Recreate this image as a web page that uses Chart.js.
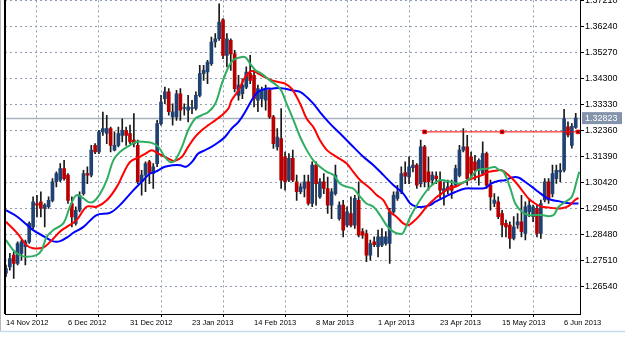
<!DOCTYPE html>
<html><head><meta charset="utf-8">
<script src="https://cdn.jsdelivr.net/npm/chart.js@4.4.1/dist/chart.umd.min.js"></script>
<style>
html,body{margin:0;padding:0;background:#fff;overflow:hidden;}
#wrap{position:relative;width:625px;height:356px;overflow:hidden;background:#fff;}
#c{position:absolute;left:0;top:0;}
</style></head><body>
<div id="wrap"><canvas id="c" width="625" height="362"></canvas></div>
<script>
// ---- data (daily EURUSD-style candles, bar index 0 = 14 Nov 2012) ----
const openP = [1.2704,1.2728,1.2772,1.2741,1.2778,1.2803,1.2821,1.2877,1.2964,1.2970,1.2946,1.2952,1.2976,1.3045,1.3051,1.3094,1.3070,1.2964,1.2890,1.2939,
1.3001,1.3076,1.3070,1.3181,1.3156,1.3231,1.3225,1.3243,1.3163,1.3181,1.3218,1.3237,1.3225,1.3200,1.3181,1.3045,1.3070,1.3119,1.3076,1.3113,
1.3262,1.3355,1.3380,1.3287,1.3287,1.3373,1.3318,1.3312,1.3318,1.3318,1.3367,1.3448,1.3454,1.3485,1.3566,1.3578,1.3649,1.3516,1.3572,1.3522,
1.3367,1.3373,1.3398,1.3448,1.3442,1.3349,1.3355,1.3349,1.3386,1.3287,1.3175,1.3206,1.3138,1.3051,1.3132,1.3045,1.3008,1.3020,1.3045,1.2964,
1.3107,1.2989,1.3045,1.3020,1.2958,1.3001,1.2908,1.2958,1.2883,1.2927,1.2883,1.2976,1.2859,1.2852,1.2772,1.2821,1.2803,1.2809,1.2815,1.2815,
1.2933,1.2983,1.3008,1.3079,1.3063,1.3098,1.3107,1.3038,1.3175,1.3082,1.3051,1.3066,1.3051,1.3008,1.3014,1.3032,1.3032,1.3069,1.3163,1.3175,
1.3138,1.3119,1.3088,1.3076,1.3150,1.3032,1.2964,1.2970,1.2927,1.2890,1.2884,1.2834,1.2884,1.2896,1.2853,1.2933,1.2915,1.2946,1.2853,1.2977,
1.3045,1.3001,1.3057,1.3082,1.3088,1.3250,1.3181,1.3248];
const highP = [1.2735,1.2778,1.2784,1.2821,1.2828,1.2828,1.2896,1.2989,1.2995,1.3008,1.2964,1.2989,1.3057,1.3082,1.3113,1.3125,1.3076,1.2989,1.2952,1.3008,
1.3088,1.3101,1.3181,1.3187,1.3237,1.3305,1.3293,1.3249,1.3231,1.3249,1.3280,1.3249,1.3256,1.3299,1.3200,1.3088,1.3119,1.3125,1.3113,1.3274,
1.3367,1.3398,1.3392,1.3336,1.3386,1.3392,1.3336,1.3367,1.3349,1.3380,1.3479,1.3479,1.3498,1.3584,1.3597,1.3708,1.3653,1.3597,1.3578,1.3535,
1.3442,1.3429,1.3473,1.3516,1.3460,1.3405,1.3398,1.3405,1.3392,1.3293,1.3243,1.3318,1.3156,1.3150,1.3163,1.3070,1.3038,1.3070,1.3070,1.3119,
1.3119,1.3057,1.3076,1.3063,1.3020,1.3107,1.2970,1.2976,1.2952,1.2989,1.2995,1.3045,1.2871,1.2865,1.2828,1.2840,1.2865,1.2871,1.2859,1.2946,
1.3008,1.3032,1.3101,1.3119,1.3138,1.3125,1.3113,1.3200,1.3181,1.3138,1.3082,1.3082,1.3082,1.3045,1.3051,1.3051,1.3107,1.3181,1.3243,1.3218,
1.3156,1.3144,1.3131,1.3194,1.3156,1.3051,1.3001,1.2989,1.2939,1.2902,1.2896,1.2915,1.2927,1.2995,1.2970,1.2977,1.2958,1.2958,1.2977,1.3057,
1.3057,1.3107,1.3107,1.3113,1.3315,1.3268,1.3262,1.3300];
const lowP = [1.2691,1.2716,1.2685,1.2735,1.2753,1.2735,1.2815,1.2870,1.2914,1.2914,1.2877,1.2946,1.2970,1.3026,1.3045,1.3051,1.2964,1.2877,1.2883,1.2933,
1.2995,1.3038,1.3063,1.3150,1.3150,1.3218,1.3187,1.3156,1.3160,1.3175,1.3194,1.3181,1.3187,1.3175,1.3038,1.2995,1.3008,1.3038,1.3020,1.3101,
1.3256,1.3336,1.3293,1.3256,1.3274,1.3274,1.3293,1.3268,1.3299,1.3312,1.3361,1.3423,1.3411,1.3479,1.3547,1.3572,1.3504,1.3473,1.3460,1.3380,
1.3349,1.3355,1.3392,1.3411,1.3324,1.3306,1.3324,1.3312,1.3281,1.3169,1.3163,1.3020,1.3014,1.3045,1.3045,1.2976,1.3001,1.2989,1.2958,1.2952,
1.2958,1.2983,1.3001,1.2927,1.2908,1.2995,1.2902,1.2840,1.2877,1.2877,1.2871,1.2840,1.2834,1.2747,1.2753,1.2803,1.2765,1.2803,1.2809,1.2741,
1.2927,1.2976,1.3001,1.3038,1.3038,1.3082,1.3020,1.3026,1.3026,1.3014,1.3032,1.3038,1.2983,1.2958,1.3001,1.2983,1.3026,1.3063,1.3156,1.3032,
1.3063,1.3051,1.3032,1.3069,1.3020,1.2939,1.2952,1.2908,1.2840,1.2840,1.2797,1.2828,1.2871,1.2840,1.2828,1.2915,1.2896,1.2840,1.2834,1.2970,
1.2964,1.2989,1.3039,1.3045,1.3082,1.3212,1.3170,1.3244];
const closeP = [1.2722,1.2759,1.2741,1.2815,1.2821,1.2821,1.2890,1.2970,1.2958,1.2946,1.2958,1.2976,1.3045,1.3076,1.3094,1.3057,1.2976,1.2914,1.2939,1.2995,
1.3076,1.3070,1.3163,1.3156,1.3231,1.3243,1.3243,1.3181,1.3181,1.3225,1.3237,1.3218,1.3194,1.3187,1.3045,1.3070,1.3113,1.3076,1.3101,1.3262,
1.3342,1.3380,1.3306,1.3306,1.3373,1.3312,1.3322,1.3324,1.3322,1.3367,1.3448,1.3460,1.3491,1.3566,1.3578,1.3640,1.3516,1.3578,1.3522,1.3392,
1.3405,1.3405,1.3454,1.3423,1.3355,1.3392,1.3386,1.3392,1.3287,1.3187,1.3212,1.3051,1.3045,1.3132,1.3051,1.3008,1.3026,1.3045,1.2964,1.3107,
1.3038,1.3045,1.3020,1.2958,1.3008,1.3070,1.2958,1.2865,1.2933,1.2883,1.2983,1.2846,1.2846,1.2772,1.2815,1.2811,1.2840,1.2840,1.2840,1.2933,
1.2995,1.3008,1.3076,1.3066,1.3101,1.3107,1.3032,1.3175,1.3045,1.3045,1.3070,1.3057,1.3014,1.3020,1.3026,1.3014,1.3094,1.3163,1.3175,1.3057,
1.3076,1.3088,1.3125,1.3150,1.3032,1.2989,1.2977,1.2915,1.2884,1.2877,1.2834,1.2877,1.2896,1.2859,1.2952,1.2958,1.2952,1.2853,1.2964,1.3045,
1.2977,1.3076,1.3088,1.3088,1.3280,1.3220,1.3252,1.3282];

// moving averages: [bar index, price]
const greenMA = [[0,1.2828],[1.9,1.2790],[3.6,1.2772],[5.3,1.2766],[7.9,1.2772],[9.2,1.2790],[10.5,1.2840],[12.2,1.2865],[14.8,1.2890],[16.5,1.2952],[18.2,1.2995],[20,1.2983],[21.2,1.2970],[22.5,1.2970],[24.3,1.3001],[26,1.3051],[27.7,1.3125],[29.4,1.3156],[32,1.3181],[33.7,1.3194],[35.4,1.3194],[37.6,1.3190],[39.3,1.3175],[41,1.3138],[42.3,1.3119],[43.6,1.3125],[45.4,1.3175],[47,1.3237],[48.8,1.3280],[50.5,1.3293],[52.2,1.3305],[54,1.3336],[55.7,1.3411],[57.4,1.3473],[58.6,1.3498],[60,1.3507],[61.7,1.3510],[63,1.3485],[64.3,1.3462],[66,1.3447],[68.1,1.3423],[70.7,1.3392],[72.4,1.3336],[74.2,1.3274],[75.9,1.3212],[77.6,1.3163],[79.3,1.3125],[81,1.3101],[82.8,1.3082],[84.5,1.3070],[86.2,1.3038],[87.9,1.3026],[89.6,1.3020],[91.4,1.2989],[93,1.2964],[94.8,1.2952],[96.5,1.2921],[98.2,1.2883],[99.9,1.2859],[101.7,1.2850],[102.5,1.2855],[104.3,1.2914],[106.8,1.2976],[109.4,1.3026],[112,1.3051],[114.6,1.3045],[117.2,1.3039],[119.7,1.3057],[121.5,1.3088],[124,1.3094],[126.2,1.3100],[127,1.3091],[128.4,1.3082],[130,1.3026],[131.4,1.2964],[133.1,1.2933],[134.8,1.2921],[136.5,1.2921],[138.2,1.2921],[140,1.2917],[141.3,1.2921],[142.6,1.2952],[144.3,1.2970],[146,1.2989],[147.3,1.3051],[147.9,1.3082]];
const redMA = [[0,1.2896],[3,1.2852],[5.3,1.2809],[7,1.2797],[9.6,1.2800],[11.4,1.2821],[13.9,1.2859],[15.7,1.2877],[18.2,1.2902],[20.8,1.2952],[23.4,1.2952],[26,1.2976],[28.6,1.3026],[30.3,1.3076],[32,1.3119],[34.6,1.3138],[36,1.3150],[37.6,1.3163],[39.3,1.3150],[41,1.3138],[42.8,1.3125],[43.6,1.3123],[45.4,1.3138],[47,1.3175],[48.8,1.3212],[50.5,1.3237],[52.2,1.3256],[54,1.3274],[55.7,1.3293],[57.4,1.3318],[58.2,1.3349],[60,1.3386],[61.7,1.3435],[63.4,1.3458],[65.1,1.3448],[66.8,1.3435],[68.6,1.3423],[70.3,1.3417],[72,1.3411],[73.7,1.3392],[75.9,1.3336],[77.6,1.3280],[79.3,1.3249],[81,1.3200],[82.8,1.3163],[85.3,1.3138],[87.9,1.3113],[89.6,1.3082],[91.4,1.3051],[94,1.3020],[95.7,1.2995],[97.4,1.2976],[99.1,1.2933],[100.8,1.2914],[102.5,1.2890],[103.8,1.2883],[105.1,1.2896],[106.8,1.2921],[108.5,1.2952],[110.7,1.2983],[112.4,1.3001],[114.2,1.3020],[115.9,1.3026],[117.6,1.3039],[119.3,1.3051],[121,1.3061],[122.8,1.3070],[124.5,1.3082],[126.2,1.3086],[127.9,1.3088],[129.6,1.3070],[131.4,1.3045],[133.1,1.3014],[134.8,1.2983],[136.5,1.2964],[138.2,1.2952],[140,1.2949],[141.7,1.2946],[143.4,1.2946],[145.1,1.2954],[146.8,1.2977],[147.7,1.2985]];
const blueMA = [[0,1.2939],[3,1.2914],[7,1.2865],[10,1.2840],[12,1.2824],[14,1.2824],[16,1.2840],[17.4,1.2855],[20,1.2877],[23.4,1.2921],[26.8,1.2929],[29.4,1.2958],[32.9,1.3014],[35.4,1.3051],[37.2,1.3076],[38.5,1.3082],[41,1.3101],[43,1.3107],[45,1.3107],[46.5,1.3101],[48,1.3119],[49.6,1.3150],[51.4,1.3163],[53,1.3175],[55,1.3194],[56.5,1.3212],[58.2,1.3243],[60,1.3268],[61.7,1.3305],[63.4,1.3349],[65,1.3380],[67,1.3392],[68.6,1.3392],[70.3,1.3395],[72,1.3392],[73.7,1.3386],[75.9,1.3380],[77.6,1.3361],[79.3,1.3336],[81,1.3305],[83.6,1.3262],[86.2,1.3225],[88.8,1.3187],[92.2,1.3138],[94.8,1.3107],[97.4,1.3070],[100,1.3032],[102.5,1.3001],[104.3,1.2964],[106,1.2952],[107.7,1.2952],[109.4,1.2958],[110.7,1.2970],[113.3,1.2989],[115.9,1.3007],[118.5,1.3020],[121,1.3020],[123.6,1.3022],[125.3,1.3039],[127,1.3048],[128.8,1.3051],[130.5,1.3061],[132.2,1.3061],[133.9,1.3045],[135.7,1.3026],[137.4,1.3007],[139.1,1.2989],[140.8,1.2977],[142.5,1.2973],[144.3,1.2967],[146,1.2964],[147.7,1.2964]];

const levelLine = [[108,1.3231],[128,1.3231],[147.6,1.3231]];
const currentPrice = 1.32823;
const dateTicks = ["14 Nov 2012","6 Dec 2012","31 Dec 2012","23 Jan 2013","14 Feb 2013","8 Mar 2013","1 Apr 2013","23 Apr 2013","15 May 2013","6 Jun 2013"];
const dateTickBars = [0,16,32,48,64,80,96,112,128,144];
const priceTicks = [1.26540,1.27510,1.28480,1.29450,1.30420,1.31390,1.32360,1.33330,1.34300,1.35270,1.36240,1.37210];

// ---- build ----
const wicks = openP.map((o,i)=>({x:i, y:[lowP[i], highP[i]]}));
const bodies = openP.map((o,i)=>({x:i, y:[o, closeP[i]]}));
const bodyColors = openP.map((o,i)=> closeP[i] >= o ? '#1f4273' : '#b80000');
const pts = arr => arr.map(p=>({x:p[0], y:p[1]}));

const GRID = '#8d9cb2';
const deco = {
  id:'deco',
  beforeDatasetsDraw(chart){
    const {ctx, chartArea:a, scales:{y}} = chart;
    const py = Math.round(y.getPixelForValue(currentPrice)) + 0.5;
    ctx.save();
    ctx.strokeStyle = '#a8b1c0'; ctx.lineWidth = 1.5;
    ctx.beginPath(); ctx.moveTo(a.left, py); ctx.lineTo(a.right, py); ctx.stroke();
    ctx.restore();
  },
  afterDraw(chart){
    const {ctx, chartArea:a, scales:{y}} = chart;
    ctx.save();
    // left frame
    ctx.strokeStyle = '#000'; ctx.lineWidth = 2;
    ctx.beginPath(); ctx.moveTo(a.left, 0); ctx.lineTo(a.left, a.bottom); ctx.stroke();
    ctx.strokeStyle = '#b8b8b8'; ctx.lineWidth = 1;
    ctx.beginPath(); ctx.moveTo(0.5, 0); ctx.lineTo(0.5, a.bottom + 17); ctx.stroke();
    // window bottom line
    ctx.strokeStyle = '#c6dbf0'; ctx.lineWidth = 1.5;
    ctx.beginPath(); ctx.moveTo(0, a.bottom + 17.5); ctx.lineTo(625, a.bottom + 17.5); ctx.stroke();
    // current price label
    const py = y.getPixelForValue(currentPrice);
    ctx.fillStyle = '#8293ab';
    ctx.fillRect(a.right + 2, py - 6, 40, 12);
    ctx.fillStyle = '#fff';
    ctx.font = '9px "Liberation Sans"';
    ctx.textBaseline = 'middle'; ctx.textAlign = 'left';
    ctx.fillText(currentPrice.toFixed(5), a.right + 5, py + 0.5);
    ctx.restore();
  }
};

const chart = new Chart(document.getElementById('c'), {
  type:'bar',
  data:{
    datasets:[
      {type:'line', label:'MA fast', data:pts(greenMA), borderColor:'#2fae62', borderWidth:2, pointRadius:0, tension:0.35, order:0},
      {type:'line', label:'MA mid', data:pts(redMA), borderColor:'#ff0000', borderWidth:2, pointRadius:0, tension:0.35, order:0},
      {type:'line', label:'MA slow', data:pts(blueMA), borderColor:'#0000ff', borderWidth:2, pointRadius:0, tension:0.35, order:0},
      {type:'line', label:'level', data:pts(levelLine), borderColor:'#ff0000', borderWidth:1, pointStyle:'rect', pointRadius:2.5, pointBackgroundColor:'#700000', pointBorderColor:'#ff0000', pointBorderWidth:1, order:1},
      {type:'bar', label:'bodies', data:bodies, backgroundColor:bodyColors, borderWidth:0, barThickness:3, minBarLength:1, grouped:false, order:2},
      {type:'bar', label:'wicks', data:wicks, backgroundColor:'#1a1a1a', borderWidth:0, barThickness:1, grouped:false, order:3}
    ]
  },
  plugins:[deco],
  options:{
    responsive:false, animation:false, devicePixelRatio:1,
    layout:{padding:{left:5, right:0, top:0, bottom:0}},
    plugins:{legend:{display:false}, tooltip:{enabled:false}},
    scales:{
      x:{type:'linear', min:-0.25, max:148.1, offset:false,
        afterBuildTicks:s=>{ s.ticks = dateTickBars.map(v=>({value:v})); },
        afterFit:s=>{ s.height = 42; },
        ticks:{autoSkip:false, maxRotation:0, minRotation:0, align:'start', padding:1, color:'#000',
          font:{family:'Liberation Sans', size:7.5},
          callback:(v,i)=>dateTicks[i]},
        grid:{color:GRID, lineWidth:1, tickLength:3, tickColor:'#000', tickBorderDash:[]},
        border:{display:true, color:'#000', width:1, dash:[2,3]}
      },
      y:{position:'right', min:1.25523, max:1.37210,
        afterBuildTicks:s=>{ s.ticks = priceTicks.map(v=>({value:v})); },
        afterFit:s=>{ s.width = 45; },
        ticks:{padding:1, color:'#000', font:{family:'Liberation Sans', size:9},
          callback:v=>Number(v).toFixed(5)},
        grid:{color:GRID, lineWidth:1, tickLength:4, tickColor:'#000', tickBorderDash:[]},
        border:{display:true, color:'#000', width:1, dash:[2,3]}
      }
    }
  }
});
const cv = document.getElementById('c');
cv.style.top = (-chart.chartArea.top) + 'px';
</script>
</body></html>
